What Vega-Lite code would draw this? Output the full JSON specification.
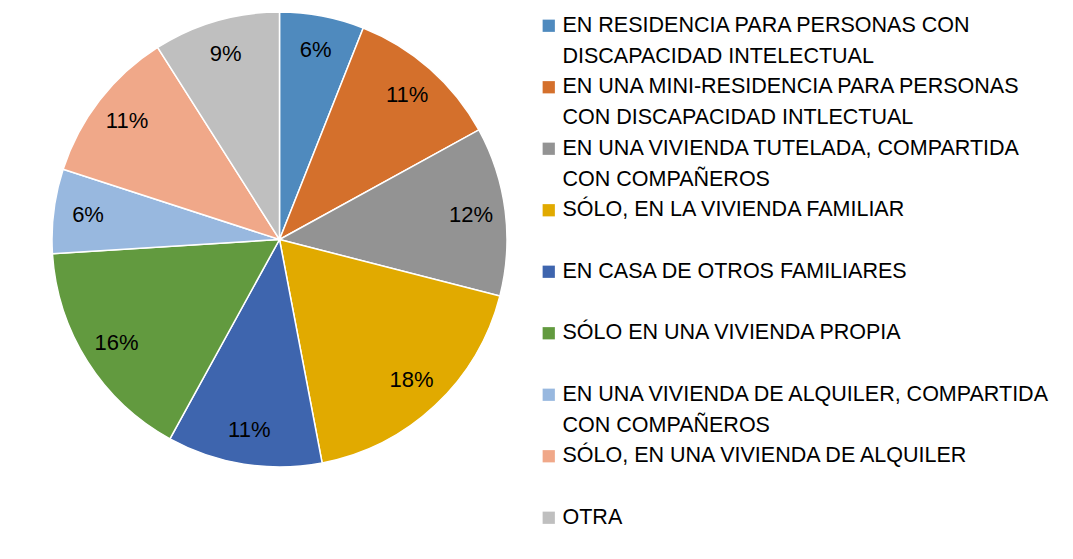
{
  "$schema": "https://vega.github.io/schema/vega-lite/v6.json",
  "width": 559,
  "height": 479,
  "padding": 0,
  "background": "white",
  "config": {
    "view": {"stroke": null},
    "font": "Liberation Sans",
    "style": {"guide-label": {"lineHeight": 31}}
  },
  "data": {"values": [
    {"idx": 1, "category": "EN RESIDENCIA PARA PERSONAS CON DISCAPACIDAD INTELECTUAL", "share": 0.06},
    {"idx": 2, "category": "EN UNA MINI-RESIDENCIA PARA PERSONAS CON DISCAPACIDAD INTLECTUAL", "share": 0.11},
    {"idx": 3, "category": "EN UNA VIVIENDA TUTELADA, COMPARTIDA CON COMPAÑEROS", "share": 0.12},
    {"idx": 4, "category": "SÓLO, EN LA VIVIENDA FAMILIAR", "share": 0.18},
    {"idx": 5, "category": "EN CASA DE OTROS FAMILIARES", "share": 0.11},
    {"idx": 6, "category": "SÓLO EN UNA VIVIENDA PROPIA", "share": 0.16},
    {"idx": 7, "category": "EN UNA VIVIENDA DE ALQUILER, COMPARTIDA CON COMPAÑEROS", "share": 0.06},
    {"idx": 8, "category": "SÓLO, EN UNA VIVIENDA DE ALQUILER", "share": 0.11},
    {"idx": 9, "category": "OTRA", "share": 0.09}
  ]},
  "encoding": {
    "theta": {"field": "share", "type": "quantitative", "stack": true},
    "order": {"field": "idx", "type": "quantitative"}
  },
  "layer": [
    {
      "mark": {"type": "arc", "outerRadius": 227.5, "stroke": "white", "strokeWidth": 1.5},
      "encoding": {
        "color": {
          "field": "category",
          "type": "nominal",
          "sort": null,
          "scale": {
            "domain": [
              "EN RESIDENCIA PARA PERSONAS CON DISCAPACIDAD INTELECTUAL",
              "EN UNA MINI-RESIDENCIA PARA PERSONAS CON DISCAPACIDAD INTLECTUAL",
              "EN UNA VIVIENDA TUTELADA, COMPARTIDA CON COMPAÑEROS",
              "SÓLO, EN LA VIVIENDA FAMILIAR",
              "EN CASA DE OTROS FAMILIARES",
              "SÓLO EN UNA VIVIENDA PROPIA",
              "EN UNA VIVIENDA DE ALQUILER, COMPARTIDA CON COMPAÑEROS",
              "SÓLO, EN UNA VIVIENDA DE ALQUILER",
              "OTRA"
            ],
            "range": ["#4f8abe", "#d4702c", "#939393", "#e1aa00", "#3e65ae", "#629a3f", "#98b8df", "#f0a889", "#bfbfbf"]
          },
          "legend": {
            "title": null,
            "orient": "none",
            "legendX": 538,
            "legendY": 15,
            "padding": 0,
            "symbolType": "square",
            "symbolSize": 150,
            "symbolStrokeWidth": 0,
            "labelFont": "Liberation Sans",
            "labelFontSize": 21.5,
            "labelColor": "#000000",
            "labelOffset": 3,
            "labelLimit": 0,
            "rowPadding": 7.5,
            "labelExpr": "datum.label == 'EN RESIDENCIA PARA PERSONAS CON DISCAPACIDAD INTELECTUAL' ? ['EN RESIDENCIA PARA PERSONAS CON', 'DISCAPACIDAD INTELECTUAL'] : datum.label == 'EN UNA MINI-RESIDENCIA PARA PERSONAS CON DISCAPACIDAD INTLECTUAL' ? ['EN UNA MINI-RESIDENCIA PARA PERSONAS', 'CON DISCAPACIDAD INTLECTUAL'] : datum.label == 'EN UNA VIVIENDA TUTELADA, COMPARTIDA CON COMPAÑEROS' ? ['EN UNA VIVIENDA TUTELADA, COMPARTIDA', 'CON COMPAÑEROS'] : datum.label == 'EN UNA VIVIENDA DE ALQUILER, COMPARTIDA CON COMPAÑEROS' ? ['EN UNA VIVIENDA DE ALQUILER, COMPARTIDA', 'CON COMPAÑEROS'] : [datum.label, '']",
            "encode": {"labels": {"enter": {"lineHeight": {"value": 31}}, "update": {"lineHeight": {"value": 31}}}}
          }
        }
      }
    },
    {
      "mark": {"type": "text", "radius": 193, "fontSize": 22, "font": "Liberation Sans", "fill": "#000000"},
      "encoding": {
        "detail": {"field": "category", "type": "nominal"},
        "text": {"field": "share", "type": "quantitative", "format": ".0%"}
      }
    }
  ]
}
